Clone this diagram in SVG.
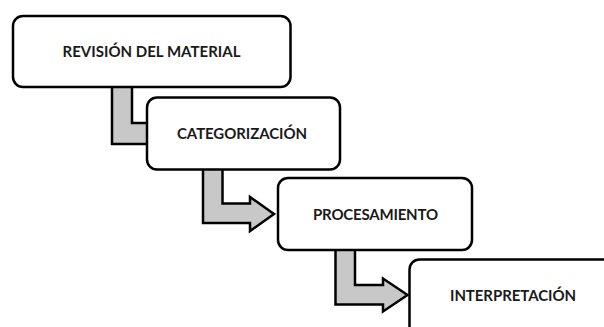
<svg xmlns="http://www.w3.org/2000/svg" width="604" height="327" viewBox="0 0 604 327">
  <style>
    .box { fill: #ffffff; stroke: #000000; stroke-width: 2.5; }
    .conn { fill: #c8c8c8; stroke: #000000; stroke-width: 2.5; stroke-linejoin: miter; }
    .lbl { font-family: Lato, "Liberation Sans", sans-serif; font-weight: bold; font-size: 15px; fill: #1a1a1a; text-anchor: middle; }
  </style>
  <rect width="604" height="327" fill="#ffffff"/>
  <g id="connectors">
    <polygon class="conn" points="112,86 132,86 132,123 150,123 150,144 112,144"/>
    <polygon class="conn" points="203,168 222.5,168 222.5,203.5 250,203.5 250,197 274,214 250,231 250,223 203,223"/>
    <polygon class="conn" points="335.5,249 355,249 355,285 383,285 383,278.5 407.5,295 383,311.5 383,304.5 335.5,304.5"/>
  </g>
  <g id="node1">
    <rect class="box" x="13" y="16" width="277.5" height="71" rx="10" ry="10"/>
    <text class="lbl" x="151.5" y="57" textLength="178">REVISIÓN DEL MATERIAL</text>
  </g>
  <g id="node2">
    <rect class="box" x="147" y="97.5" width="193" height="72" rx="10" ry="10"/>
    <text class="lbl" x="242" y="139" textLength="130">CATEGORIZACIÓN</text>
  </g>
  <g id="node3">
    <rect class="box" x="278" y="178" width="194" height="72" rx="10" ry="10"/>
    <text class="lbl" x="375.5" y="220" textLength="125">PROCESAMIENTO</text>
  </g>
  <g id="node4">
    <rect class="box" x="409.5" y="259.5" width="240" height="100" rx="10" ry="10"/>
    <text class="lbl" x="513" y="300.5" textLength="126">INTERPRETACIÓN</text>
  </g>
</svg>
